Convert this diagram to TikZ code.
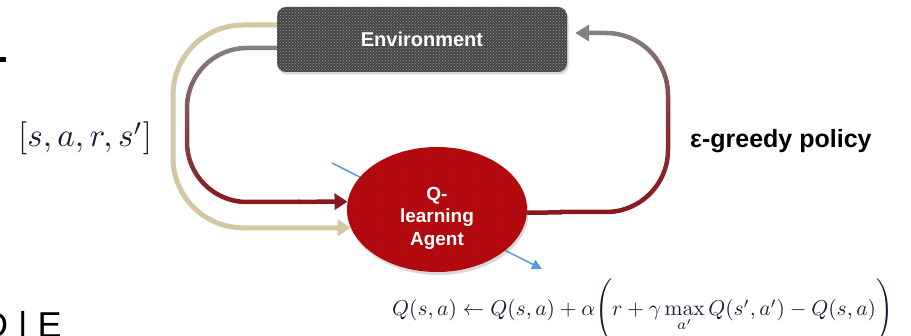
\documentclass[tikz,border=0pt]{standalone}
\usepackage[no-math]{fontspec}
\usepackage{graphicx}
\setmainfont{Liberation Sans}
\usetikzlibrary{arrows.meta,shadows,patterns,backgrounds,calc,shapes.geometric}
\definecolor{tanc}{RGB}{214,199,164}
\definecolor{lgray}{RGB}{132,128,132}
\definecolor{dred}{RGB}{135,24,30}
\definecolor{agentred}{RGB}{180,10,14}
\definecolor{envgray}{RGB}{70,70,70}
\definecolor{bluec}{RGB}{91,155,213}
\definecolor{navy}{RGB}{25,30,55}
\begin{document}
\begin{tikzpicture}[x=1pt,y=1pt,
  envbox/.style={fill=envgray, rounded corners=9pt, minimum width=290pt, minimum height=65pt, inner sep=0pt,
    drop shadow={opacity=0.3, shadow xshift=1.5pt, shadow yshift=-2.5pt},
    postaction={pattern=crosshatch dots, pattern color=black!40},
    text=white, font=\bfseries\fontsize{20}{24}\selectfont},
  agentnode/.style={ellipse, fill=agentred, minimum width=180pt, minimum height=125pt, inner sep=0pt,
    drop shadow={opacity=0.3, shadow xshift=1.5pt, shadow yshift=-3pt},
    postaction={pattern=dots, pattern color=agentred!80!black}},
  agenttxt/.style={text=white, align=center, font=\bfseries\fontsize{19}{22.5}\selectfont, inner sep=0pt},
  tanline/.style={draw=tanc, line width=5pt, rounded corners=70pt, -{Triangle[length=13pt,width=16pt]}},
  redline/.style={draw=dred, line width=4.5pt},
  tipa/.style={-{Triangle[length=13pt,width=16pt]}},
  blueline/.style={draw=bluec, line width=1.5pt, -{Triangle[length=10pt,width=10pt]}},
  lbl/.style={anchor=base west, inner sep=0pt}
]
\useasboundingbox (0,0) rectangle (911,335);
\clip (0,0) rectangle (911,335);

% nodes
\node[envbox] (env) at (422,295.5) {Environment};
\node[agentnode] (agent) at (437,125.5) {};
\node[agenttxt] (agenttext) at (437,117) {Q-\\learning\\Agent};

% labels
\node[lbl, text=navy] (sars) at (18,188) {\scalebox{3.3}{$[s,a,r,s']$}};
\node[lbl, font=\bfseries\fontsize{25}{30}\selectfont] (policy) at (690,187) {ε-greedy policy};
\node[lbl, text=navy] (update) at (392,19)
  {\scalebox{2.15}{$Q(s,a) \leftarrow Q(s,a) + \alpha \Bigg( r + \gamma \max\limits_{a'} Q(s',a') - Q(s,a) \Bigg)$}};
\node[lbl, font=\fontsize{36}{40}\selectfont] (frag) at (-18,-2.8) {D | E};
\fill (0,272.7) rectangle (6,277.7);

% connectors
\coordinate (tstart) at ($(env.west)+(0,14.5)$);
\coordinate (dstart) at (298,133.2);
\coordinate (rmid) at (562,122.6);
\coordinate (rtop) at (590,302);
\coordinate (penv) at ($(env.east)+(8,6.5)$);
\coordinate (bstart) at (332,172);
\coordinate (bend) at (542,66);

\begin{scope}[on background layer]
  \draw[blueline] (bstart) -- (bend);
  \draw[tanline] (tstart) -- (173,310) -- (173,107.2) -- (agent.192);
  % observation loop (gray to red)
  \shade[top color=lgray, bottom color=dred, middle color=lgray!45!dred]
    (280,289.25) -- (247,289.25) arc[start angle=90,end angle=180,radius=62.25pt]
    -- (184.75,193) arc[start angle=180,end angle=270,radius=62.25pt]
    -- (300,130.75) -- (300,135.25) -- (247,135.25)
    arc[start angle=270,end angle=180,radius=57.75pt]
    -- (189.25,227) arc[start angle=180,end angle=90,radius=57.75pt]
    -- (280,284.75) -- cycle;
  \draw[redline, tipa] (dstart) -- (agent.175);
  % policy loop (red to gray)
  \draw[redline] (agent.358) -- (rmid);
  \shade[top color=lgray, bottom color=dred, middle color=dred!75!lgray]
    (560,120.75) -- (606,120.75) arc[start angle=-90,end angle=0,radius=64.25pt]
    -- (670.25,240) arc[start angle=0,end angle=90,radius=64.25pt]
    -- (588,304.25) -- (588,299.75) -- (606,299.75)
    arc[start angle=90,end angle=0,radius=59.75pt]
    -- (665.75,185) arc[start angle=0,end angle=-90,radius=59.75pt]
    -- (560,125.25) -- cycle;
  \draw[draw=lgray, line width=4.5pt, -{Triangle[length=14pt,width=16pt]}] (rtop) -- (penv);
\end{scope}
\end{tikzpicture}
\end{document}
